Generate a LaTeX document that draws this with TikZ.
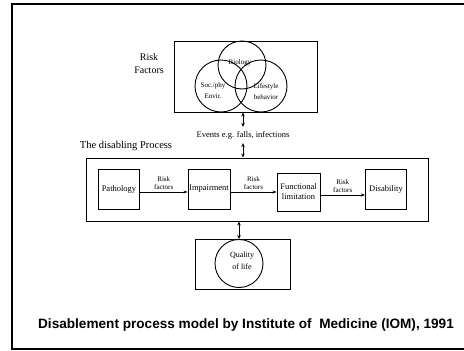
\documentclass[tikz,border=0pt]{standalone}
\usepackage{fontspec}
\setmainfont{Liberation Serif}
\newfontfamily\captionfont{Liberation Sans}
\usetikzlibrary{arrows.meta,positioning}

\tikzset{
    stage/.style={draw, line width=0.9pt, minimum width=41pt, minimum height=40pt,
        inner sep=1pt, align=center, font=\fontsize{8.5}{10}\selectfont},
    ring/.style={draw, circle, line width=0.9pt, inner sep=0pt},
    ringtext/.style={align=center, font=\fontsize{7}{11}\selectfont},
    small/.style={align=center, inner sep=2pt, font=\fontsize{7}{8}\selectfont},
    flow/.style={-{Stealth[length=4pt,width=3pt]}, line width=0.8pt},
    both/.style={{Stealth[length=4pt,width=3.5pt]}-{Stealth[length=4pt,width=3.5pt]}, line width=1pt}
}

\begin{document}
\begin{tikzpicture}[x=1pt, y=-1pt]
    \useasboundingbox (0,0) rectangle (464,351);

    % Frame, open on the right
    \draw[line width=1.6pt] (464,4) -- (12,4) -- (12,349) -- (464,349);

    % Risk factors: three overlapping circles
    \node[draw, line width=0.9pt, minimum width=143pt, minimum height=71pt] (risk) at (245.5,76.5) {};
    \node[ring, minimum size=48pt] (bio) at (242,65) {};
    \node[ring, minimum size=52pt] (soc) at (221,86) {};
    \node[ring, minimum size=52pt] (life) at (261,86) {};
    \node[ringtext] (biotxt) at (240,63) {Biology};
    \node[ringtext] (soctxt) at (213,91) {Soc./phy\\Envir.};
    \node[ringtext] (lifetxt) at (266,92) {Lifestyle\\behavior};
    \node[align=center, font=\fontsize{10}{13}\selectfont] (risklbl) at (149,64) {Risk\\Factors};

    % Events between risk factors and the process
    \node[inner sep=4pt, font=\fontsize{8.5}{10}\selectfont] (events) at (243,135) {Events e.g. falls, infections};
    \node[font=\fontsize{10.5}{12}\selectfont] (proclbl) at (126,146) {The disabling Process};

    % The disabling process
    \node[draw, line width=0.9pt, minimum width=342pt, minimum height=63pt] (process) at (257,189.5) {};
    \node[stage] (patho) at (119,189) {Pathology};
    \node[stage, minimum width=42pt] (impair) at (209,189) {Impairment};
    \node[stage, minimum width=43pt, minimum height=38pt] (funct) at (298.5,192) {Functional\\limitation};
    \node[stage] (disab) at (386,189) {Disability};

    \foreach \a/\b in {patho/impair, impair/funct, funct/disab}
        \draw[flow] ([yshift=-3pt]\a.east) -- ([yshift=-3pt]\a.east -| \b.west)
            node[midway, above, small] (rf\a) {Risk\\factors};

    % Quality of life
    \node[draw, line width=0.9pt, minimum width=95pt, minimum height=50pt] (quality) at (242.5,264) {};
    \node[ring, minimum size=48pt] (qring) at (239,263.5) {};
    \node[ringtext, font=\fontsize{8}{12}\selectfont] (qtxt) at (242,261) {Quality\\of life};

    % Two-way links
    \draw[both] (events.north |- risk.south) -- (events.north);
    \draw[both] (events.south) -- (events.south |- process.north);
    \draw[both] (qring.north |- process.south) -- (qring.north);

    % Caption
    \node[font=\captionfont\bfseries\fontsize{13.6}{15}\selectfont] (caption) at (246,325)
        {Disablement process model by Institute of\ \ Medicine (IOM), 1991};
\end{tikzpicture}
\end{document}
